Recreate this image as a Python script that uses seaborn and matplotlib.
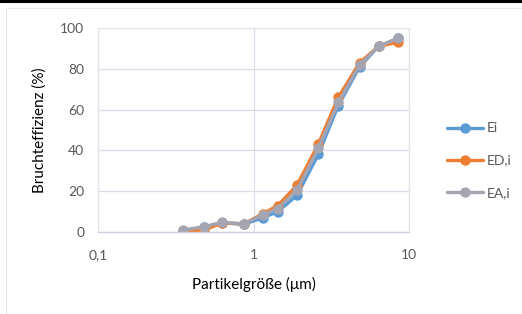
import matplotlib
matplotlib.use("Agg")
import matplotlib.pyplot as plt
from matplotlib.lines import Line2D
from matplotlib.patches import Rectangle
from matplotlib.ticker import FixedLocator, FixedFormatter, NullLocator
import seaborn as sns
import pandas as pd

# Partikelgröße in µm and Bruchteffizienz in %
particle_size = [0.35, 0.48, 0.63, 0.86, 1.15, 1.43, 1.9, 2.6, 3.5, 4.8, 6.35, 8.5]
e_i = [0.5, 2.5, 4.5, 3.8, 7, 10, 18, 38, 62, 81, 91, 95]
e_d_i = [0.5, 1, 4.5, 4, 9, 13, 23, 43, 66, 83, 91, 93]
e_a_i = [1, 2.6, 4.8, 4, 8.5, 11.5, 20.5, 41, 63.5, 82, 91, 95]

series_names = ['Ei', 'ED,i', 'EA,i']
series_colors = ['#5B9BD5', '#ED7D31', '#A5A5B2']

x_ticks = [0.1, 1, 10]
x_tick_labels = ['0,1', '1', '10']
y_ticks = [0, 20, 40, 60, 80, 100]

# long format so seaborn can split by hue
df = pd.DataFrame({
    'size': particle_size * 3,
    'eff': e_i + e_d_i + e_a_i,
    'series': [s for s in series_names for _ in particle_size],
})

sns.set_style("white")
plt.rcParams['font.family'] = ['Lato', 'DejaVu Sans']

fig = plt.figure(figsize=(5.22, 3.14), dpi=100)
ax = fig.add_axes([0.188, 0.261, 0.596, 0.650])

sns.lineplot(data=df, x='size', y='eff', hue='series', hue_order=series_names,
             palette=series_colors, marker='o', markersize=7.5, markeredgewidth=0,
             linewidth=2.4, ax=ax)

ax.set_xscale('log')
ax.set_xlim(0.1, 10)
ax.set_ylim(0, 100)
ax.xaxis.set_major_locator(FixedLocator(x_ticks))
ax.xaxis.set_major_formatter(FixedFormatter(x_tick_labels))
ax.xaxis.set_minor_locator(NullLocator())
ax.set_yticks(y_ticks)
ax.tick_params(axis='both', length=0, labelsize=10, labelcolor='#595959')
ax.tick_params(axis='x', pad=12)
ax.tick_params(axis='y', pad=10)

ax.grid(True, color='#DCDCE8', linewidth=0.9)
for side in ['top', 'right', 'left']:
    ax.spines[side].set_color('#E4E4EE')
    ax.spines[side].set_linewidth(0.9)
ax.spines['bottom'].set_color('#D0D0DE')
ax.spines['bottom'].set_linewidth(1.0)

ax.set_xlabel('Partikelgröße (μm)', fontsize=11, color='black', labelpad=12)
ax.set_ylabel('Bruchteffizienz (%)', fontsize=11, color='black', labelpad=10)

handles = [Line2D([], [], color=c, marker='o', markersize=7.5, markeredgewidth=0, linewidth=2.4)
           for c in series_colors]
ax.legend(handles, series_names, loc='center left', bbox_to_anchor=(1.08, 0.35),
          frameon=False, fontsize=10, labelcolor='#595959', handlelength=2.6,
          handletextpad=0.3, labelspacing=1.45)

# chart border and top bar from the page
fig.add_artist(Rectangle((0.012, 0.0), 0.99, 0.975, transform=fig.transFigure,
                         fill=False, edgecolor='#E8E8E8', linewidth=0.8))
fig.add_artist(Line2D([0, 1], [0.996, 0.996], transform=fig.transFigure,
                      color='black', linewidth=2.2))

fig.savefig('out.png', dpi=100)
